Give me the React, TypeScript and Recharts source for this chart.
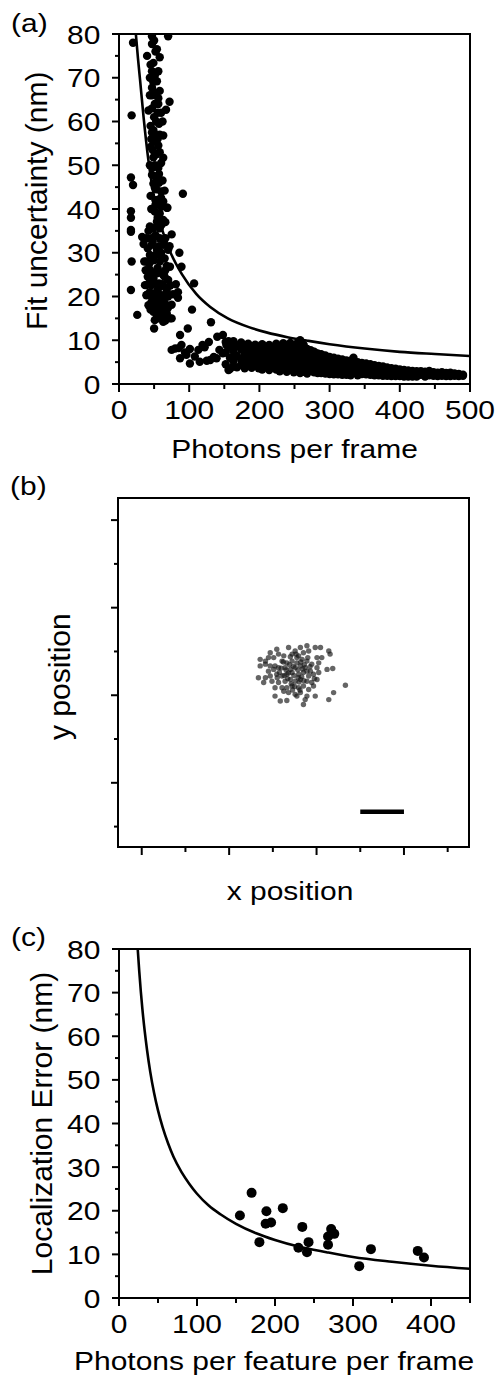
import React from 'react';
import { ComposedChart, Scatter, Line, XAxis, YAxis, ReferenceArea } from 'recharts';

const FONT = '"Liberation Sans", Arial, Helvetica, sans-serif';
const SQUASH = 0.88;
const W = 498;

// ---------------- Panel (a) data ----------------
const aXTicks = [0, 50, 100, 150, 200, 250, 300, 350, 400, 450, 500];
const aXMajor = [0, 100, 200, 300, 400, 500];
const aYTicks = [0, 5, 10, 15, 20, 25, 30, 35, 40, 45, 50, 55, 60, 65, 70, 75, 80];
const aYMajor = [0, 10, 20, 30, 40, 50, 60, 70, 80];

// low-photon, high-uncertainty column
const aTopCloud: [number, number][] = [
  [20, 78], [47, 79.5], [70, 79.5], [47, 77.7], [40, 75], [58, 74.7], [52, 76], [49, 73.4],
  [47, 71.5], [56, 71.5], [44, 70], [54, 69.2], [47, 67.7], [58, 67], [52, 66.5], [47, 66],
  [56, 65.3], [72, 64.5], [56, 64], [47, 63], [42, 62.5], [67, 62.7], [60, 62], [18, 61.4],
  [62, 60], [53, 60], [45, 59], [49, 58], [47, 57.5], [58, 57], [63, 56.8], [51, 55.5],
  [56, 54.5], [45, 54.2], [53, 52.5], [63, 51.7], [49, 51.8], [60, 50.5], [44, 50], [56, 49.4],
  [47, 47.8], [57, 48], [53, 47], [17, 47.2], [20, 45.5], [49, 45.8], [51, 44.9], [65, 44.2],
  [91, 43.5], [45, 43], [60, 44],
  [50, 78.5], [54, 76.5], [45, 73], [51, 70.5], [49, 69], [44, 66], [51, 64], [55, 62],
  [50, 61], [57, 59.5], [52, 57], [46, 56], [55, 56], [48, 53.5], [58, 53], [51, 50],
  [55, 47.5], [48, 49.5], [53, 44.5], [57, 46], [62, 46.5],
];

// dense cluster between 12 and 43 nm
const aMidCloud: [number, number][] = [
  [56, 42.1], [63, 41.7], [52, 42], [68, 40.3], [46, 40], [51, 39.4], [58, 39], [63, 37.5],
  [54, 37.1], [49, 35.6], [58, 35.6], [42, 35], [39, 33.3], [46.5, 33.3], [58, 33.3], [66, 33.3],
  [75, 34.2], [33, 33.6], [35, 32], [46.5, 31.8], [54, 30.7], [63, 31.8], [70, 30.7], [60, 30],
  [44, 29.5], [39, 28], [36, 28], [49, 28.3], [58, 28], [65, 28.7], [72.6, 26.8], [66, 26],
  [38, 26], [44, 26.1], [54, 25.3], [63, 24.9], [44, 24], [49, 24.2], [70, 23.8], [57, 23],
  [37, 22.6], [39, 22.6], [46.5, 22.6], [58, 22.2], [67, 22], [68, 21.5], [39, 20.3], [40, 20.4],
  [51, 20.7], [61, 20.3], [70, 20], [77, 20.5], [53, 19], [46.5, 18.8], [42, 18], [56, 18.1],
  [65.5, 18.4], [75, 18.1], [61, 17], [49, 16.5], [58, 16.9], [68, 16.2], [54, 15.4], [63, 14.2],
  [72.6, 15], [51, 14.6],
  [52, 41], [60, 40.5], [55, 38], [61, 36.5], [44, 36], [52, 34], [48, 32.5], [41, 31],
  [57, 31.5], [61, 29], [52, 29.5], [43, 27.5], [55, 26.5], [60, 25.5], [47, 25.5], [65, 24.5],
  [52, 23], [41, 24.5], [62, 22.8], [55, 21.5], [44, 21], [48, 20], [64, 19.5], [58, 19.5],
  [52, 17.5], [45, 17], [62, 16], [56, 15], [66, 14.5], [70, 17.5], [73, 22.5], [68, 27],
  [72, 31.5], [66, 37], [60, 42.5],
];

// isolated points
const aSparse: [number, number][] = [
  [17, 39.5], [17, 38], [17, 35.2], [17, 34.8], [18, 28], [17, 21.5], [26, 15.8], [50, 12.7],
  [69, 40.3], [86, 30], [89, 26.8], [107, 23], [81, 22.8], [84, 21], [84, 19.7], [104, 17],
  [75, 15], [131, 14.1], [98, 12.7], [87, 11.2], [140, 10.8], [148, 11.2], [75, 7.8], [80, 8.1],
  [85, 8.2], [89, 8.9], [94, 7.2], [101, 8], [113, 7.8], [119, 8.9], [122, 8.4], [128, 9.6],
  [101, 4.7], [108, 6.3], [115, 5.1], [125, 5.3], [130, 5.5], [135, 6.2], [139, 5.9], [87, 5.9],
  [96, 6.7], [156, 3.2], [143, 7.8], [148, 7], [153, 8.9], [156, 9.8],
];

// dense band at high photon counts: [photons, uncertainties...]
const aBandColumns: [number, number[]][] = [
  [152, [9.6, 7.2, 4.5]], [158, [8.4, 6.0, 3.4]], [163, [9.8, 7.5, 5.2, 4.0]], [168, [8.8, 6.4, 3.8]],
  [174, [9.5, 7.9, 5.6, 4.4]], [179, [8.6, 6.8, 4.9, 3.6]], [184, [9.2, 7.3, 5.9, 4.1]],
  [189, [8.3, 6.6, 5.0, 3.7]], [194, [9.0, 7.7, 6.0, 4.4]], [199, [8.6, 7.0, 5.4, 3.6]],
  [204, [9.1, 7.4, 6.1, 4.7, 3.3]], [209, [8.2, 6.7, 5.2, 3.9]], [214, [8.9, 7.6, 6.0, 4.5, 3.2]],
  [219, [8.4, 6.8, 5.3, 3.8]], [224, [9.2, 7.5, 6.2, 4.6, 3.3]], [229, [8.6, 7.0, 5.5, 4.0, 2.9]],
  [234, [9.3, 7.8, 6.3, 4.8, 3.4]], [239, [8.8, 7.2, 5.7, 4.1, 2.8]], [244, [9.4, 7.9, 6.4, 4.9, 3.3]],
  [249, [8.7, 7.1, 5.6, 4.0, 2.7]], [254, [9.3, 7.6, 6.1, 4.6, 3.1]], [258, [10.0, 8.4, 6.8, 5.2, 3.6, 2.5]],
  [263, [9.0, 7.3, 5.8, 4.2, 2.8]], [268, [8.0, 6.5, 5.0, 3.5, 2.4]], [273, [7.7, 6.1, 4.6, 3.1]],
  [278, [7.4, 5.8, 4.3, 2.7]], [283, [7.0, 5.5, 4.0, 2.5]], [288, [6.8, 5.3, 3.8, 2.5]],
  [294, [6.5, 5.0, 3.5, 2.4]], [300, [6.2, 4.8, 3.3, 2.3]], [306, [6.0, 4.6, 3.2, 2.2]],
  [312, [5.8, 4.4, 3.0, 2.2]], [318, [5.6, 4.2, 2.9, 2.1]], [324, [5.4, 4.0, 2.7, 2.1]],
  [330, [5.3, 3.9, 2.6, 2.0]], [334, [6.0, 4.5, 3.0]], [340, [5.0, 3.7, 2.5, 2.0]],
  [346, [4.8, 3.5, 2.3]], [352, [4.7, 3.4, 2.2]], [358, [4.5, 3.3, 2.1]], [364, [4.3, 3.1, 2.0]],
  [370, [4.1, 3.0, 2.0]], [376, [4.0, 2.9, 1.9]], [382, [3.8, 2.8, 1.9]], [388, [3.6, 2.6, 1.8]],
  [394, [3.5, 2.5, 1.8]], [400, [3.3, 2.4, 1.8]], [406, [3.2, 2.3, 1.7]], [412, [3.1, 2.3, 1.7]],
  [418, [3.0, 2.2, 1.7]], [424, [2.9, 2.1, 1.7]], [430, [2.9, 2.1]], [436, [2.8, 2.0, 1.7]],
  [442, [3.0, 2.0]], [448, [2.7, 1.9]], [454, [2.6, 1.8]], [460, [2.7, 1.9]], [466, [2.5, 1.8]],
  [472, [2.6, 1.8]], [478, [2.4, 1.9]], [484, [2.3, 1.8]], [490, [2.1, 1.9]],
];

// theoretical curve
const aFitCurve: [number, number][] = [
  [24, 80], [27, 74.5], [30, 69.5], [35, 61], [42, 51], [48, 44.5], [55, 39], [62, 35],
  [73, 30.2], [90, 25], [110, 20.6], [130, 17.6], [155, 15], [185, 13], [210, 11.8],
  [240, 10.7], [270, 9.85], [300, 9.1], [350, 8.1], [400, 7.35], [450, 6.85], [500, 6.4],
];

// ---------------- Panel (b) data ----------------
const bXTicks = [0, 1, 2, 3, 4, 5, 6, 7];
const bXMajor = [0, 2, 4, 6];
const bYTicks = [-1, 0, 1, 2, 3, 4, 5, 6];
const bYMajor = [0, 2, 4, 6];
const bCluster: [number, number][] = [
  [3.09, 3.05], [2.94, 2.97], [3.36, 3.09], [3.51, 3.01], [3.63, 3.09], [3.78, 3.13], [3.97, 3.09],
  [4.09, 3.09], [4.28, 3.01], [4.31, 2.94],
  [2.71, 2.82], [2.83, 2.78], [2.90, 2.86], [3.02, 2.86], [3.13, 2.94], [3.25, 2.90], [3.44, 2.94],
  [3.59, 2.90], [3.70, 2.97], [3.82, 3.01], [4.01, 2.86], [4.12, 2.86],
  [2.71, 2.67], [2.83, 2.71], [2.94, 2.67], [3.05, 2.67], [3.21, 2.78], [3.32, 2.74], [3.44, 2.78],
  [3.55, 2.74], [3.67, 2.82], [3.78, 2.78], [3.89, 2.71], [4.05, 2.74], [4.01, 2.63],
  [2.90, 2.55], [3.02, 2.59], [3.13, 2.63], [3.28, 2.63], [3.40, 2.59], [3.51, 2.63], [3.63, 2.67],
  [3.74, 2.63], [3.86, 2.55], [4.24, 2.59], [4.37, 2.61],
  [2.67, 2.40], [2.83, 2.40], [2.94, 2.44], [3.09, 2.48], [3.21, 2.44], [3.32, 2.48], [3.44, 2.52],
  [3.59, 2.48], [3.70, 2.52], [3.82, 2.44], [3.93, 2.48], [4.05, 2.52],
  [2.79, 2.29], [2.98, 2.32], [3.13, 2.29], [3.28, 2.32], [3.40, 2.36], [3.51, 2.32], [3.63, 2.36],
  [3.78, 2.32], [3.89, 2.29], [4.01, 2.36],
  [3.05, 2.17], [3.21, 2.17], [3.32, 2.17], [3.44, 2.21], [3.59, 2.17], [3.70, 2.21], [3.82, 2.13],
  [3.93, 2.21], [4.66, 2.23],
  [3.25, 2.09], [3.36, 2.06], [3.51, 2.02], [3.63, 2.06], [3.78, 1.98], [3.97, 1.98], [4.39, 2.06],
  [3.05, 1.98], [3.17, 1.87], [3.32, 1.88], [3.55, 1.98], [3.74, 1.90], [3.70, 1.79], [4.28, 1.90],
  [3.15, 2.52], [3.38, 2.70], [3.48, 2.45], [3.57, 2.58], [3.66, 2.42], [3.72, 2.70], [3.45, 2.12],
  [3.60, 2.30], [3.34, 2.38], [3.24, 2.76], [3.55, 2.86], [3.68, 2.60], [3.40, 2.88], [3.78, 2.55],
  [3.50, 2.20], [3.62, 2.12], [3.30, 2.58], [3.10, 2.40], [3.85, 2.65], [3.95, 2.38],
  [3.47, 2.66], [3.58, 2.40], [3.36, 2.51], [3.71, 2.33], [3.26, 2.45], [3.53, 2.94], [3.80, 2.86],
  [3.19, 2.62], [3.64, 2.76], [3.42, 2.26],
];
const bScaleBar: [number, number][] = [[5, -0.66], [6, -0.66]];

// ---------------- Panel (c) data ----------------
const cXTicks = [0, 50, 100, 150, 200, 250, 300, 350, 400, 450];
const cXMajor = [0, 100, 200, 300, 400];
const cYTicks = aYTicks;
const cYMajor = aYMajor;
const cPoints: [number, number][] = [
  [155, 18.9], [170, 24.1], [180, 12.8], [189, 19.9], [188, 17.0], [195, 17.3], [210, 20.6],
  [230, 11.5], [235, 16.3], [243, 12.8], [241, 10.5], [268, 14.1], [268, 12.2], [272, 15.8],
  [276, 14.7], [308, 7.3], [323, 11.2], [383, 10.8], [391, 9.3],
];
const cFitCurve: [number, number][] = [
  [24, 80], [26, 74.8], [28, 70.2], [30, 66.2], [33, 61.1], [36, 56.8], [40, 51.9], [45, 47],
  [50, 43], [56, 39.1], [63, 35.4], [70, 32.3], [80, 28.9], [90, 26.2], [100, 23.9], [115, 21.2],
  [130, 19.2], [150, 17], [175, 14.9], [200, 13.3], [230, 11.8], [266, 10.5], [300, 9.4],
  [350, 8.3], [400, 7.4], [450, 6.7],
];

// ---------------- helpers ----------------
const toXY = (arr: [number, number][]) => arr.map(([x, y]) => ({ x, y }));

const aPoints = toXY([
  ...aTopCloud,
  ...aMidCloud,
  ...aSparse,
  ...aBandColumns.flatMap(([n, ss]) => ss.map((s) => [n, s] as [number, number])),
]);
const aFit = toXY(aFitCurve);
const bPoints = toXY(bCluster);
const bBar = toXY(bScaleBar);
const cPts = toXY(cPoints);
const cFit = toXY(cFitCurve);

const makeXTick = (majors: number[], labels: boolean) => (props: any) => {
  const { x, y, payload } = props;
  const v = payload.value;
  const major = majors.indexOf(v) >= 0;
  return (
    <g>
      <line x1={x} x2={x} y1={y} y2={y + (major ? 8 : 5)} stroke="#000" strokeWidth={2} />
      {major && labels && (
        <text
          transform={`translate(${x},${y + 35}) scale(1,${SQUASH})`}
          textAnchor="middle"
          fontSize={30}
          fontFamily={FONT}
          fill="#000"
        >
          {v}
        </text>
      )}
    </g>
  );
};

const makeYTick = (majors: number[], labels: boolean) => (props: any) => {
  const { x, y, payload } = props;
  const v = payload.value;
  const major = majors.indexOf(v) >= 0;
  return (
    <g>
      <line x1={x} x2={x - (major ? 7 : 4)} y1={y} y2={y} stroke="#000" strokeWidth={2} />
      {major && labels && (
        <text
          transform={`translate(${x - 18.5},${y + 9.5}) scale(1,${SQUASH})`}
          textAnchor="end"
          fontSize={30}
          fontFamily={FONT}
          fill="#000"
        >
          {v}
        </text>
      )}
    </g>
  );
};

const HText = ({ x, y, anchor, children }: any) => (
  <text
    transform={`translate(${x},${y}) scale(1,${SQUASH})`}
    textAnchor={anchor || 'middle'}
    fontSize={30}
    fontFamily={FONT}
    fill="#000"
  >
    {children}
  </text>
);

const VText = ({ x, y, children }: any) => (
  <text
    transform={`translate(${x},${y}) rotate(-90)`}
    textAnchor="middle"
    fontSize={30}
    fontFamily={FONT}
    fill="#000"
  >
    {children}
  </text>
);

const dotShape = (r: number, fill: string, opacity: number) => (props: any) => (
  <circle cx={props.cx} cy={props.cy} r={r} fill={fill} fillOpacity={opacity} />
);

const axisLine = { stroke: '#000', strokeWidth: 2 };

function PanelA() {
  return (
    <ComposedChart width={W} height={470} margin={{ top: 34, right: 28, bottom: 0, left: 0 }}>
      <XAxis
        type="number"
        dataKey="x"
        domain={[0, 500]}
        allowDataOverflow
        ticks={aXTicks}
        interval={0}
        tickSize={0}
        tickMargin={0}
        tickLine={false}
        axisLine={axisLine}
        tick={makeXTick(aXMajor, true)}
        height={86}
        label={{ content: () => <HText x={294.5} y={458.3}>Photons per frame</HText> }}
      />
      <YAxis
        type="number"
        dataKey="y"
        domain={[0, 80]}
        allowDataOverflow
        ticks={aYTicks}
        interval={0}
        tickSize={0}
        tickMargin={0}
        tickLine={false}
        axisLine={axisLine}
        tick={makeYTick(aYMajor, true)}
        width={119}
        label={{
          content: () => (
            <g>
              <VText x={46.7} y={200.8}>Fit uncertainty (nm)</VText>
              <HText x={11} y={31.7} anchor="start">(a)</HText>
            </g>
          ),
        }}
      />
      <Scatter data={aPoints} dataKey="y" isAnimationActive={false} shape={dotShape(4.2, '#000', 1)} />
      <Line
        data={aFit}
        dataKey="y"
        type="monotone"
        stroke="#000"
        strokeWidth={2.6}
        dot={false}
        activeDot={false}
        isAnimationActive={false}
      />
      <ReferenceArea x1={0} x2={500} y1={0} y2={80} fill="none" fillOpacity={0} stroke="#000" strokeWidth={2} />
    </ComposedChart>
  );
}

function PanelB() {
  return (
    <ComposedChart width={W} height={445} margin={{ top: 28, right: 29, bottom: 0, left: 0 }}>
      <XAxis
        type="number"
        dataKey="x"
        domain={[-0.543, 7.488]}
        allowDataOverflow
        ticks={bXTicks}
        interval={0}
        tickSize={0}
        tickMargin={0}
        tickLine={false}
        axisLine={axisLine}
        tick={makeXTick(bXMajor, false)}
        height={68}
        label={{ content: () => <HText x={290} y={430}>x position</HText> }}
      />
      <YAxis
        type="number"
        dataKey="y"
        domain={[-1.466, 6.505]}
        allowDataOverflow
        ticks={bYTicks}
        interval={0}
        tickSize={0}
        tickMargin={0}
        tickLine={false}
        axisLine={axisLine}
        tick={makeYTick(bYMajor, false)}
        width={118}
        label={{
          content: () => (
            <g>
              <VText x={70} y={206.7}>y position</VText>
              <HText x={10} y={25} anchor="start">(b)</HText>
            </g>
          ),
        }}
      />
      <Scatter data={bPoints} dataKey="y" isAnimationActive={false} shape={dotShape(2.7, '#151515', 0.66)} />
      <Line
        data={bBar}
        dataKey="y"
        type="linear"
        stroke="#000"
        strokeWidth={4.5}
        dot={false}
        activeDot={false}
        isAnimationActive={false}
      />
      <ReferenceArea
        x1={-0.543}
        x2={7.488}
        y1={-1.466}
        y2={6.505}
        fill="none"
        fillOpacity={0}
        stroke="#000"
        strokeWidth={2}
      />
    </ComposedChart>
  );
}

function PanelC() {
  return (
    <ComposedChart width={W} height={462} margin={{ top: 34, right: 28, bottom: 0, left: 0 }}>
      <XAxis
        type="number"
        dataKey="x"
        domain={[0, 450]}
        allowDataOverflow
        ticks={cXTicks}
        interval={0}
        tickSize={0}
        tickMargin={0}
        tickLine={false}
        axisLine={axisLine}
        tick={makeXTick(cXMajor, true)}
        height={79}
        label={{ content: () => <HText x={274} y={455}>Photons per feature per frame</HText> }}
      />
      <YAxis
        type="number"
        dataKey="y"
        domain={[0, 80]}
        allowDataOverflow
        ticks={cYTicks}
        interval={0}
        tickSize={0}
        tickMargin={0}
        tickLine={false}
        axisLine={axisLine}
        tick={makeYTick(cYMajor, true)}
        width={119}
        label={{
          content: () => (
            <g>
              <VText x={51.7} y={208.5}>Localization Error (nm)</VText>
              <HText x={11} y={31} anchor="start">(c)</HText>
            </g>
          ),
        }}
      />
      <Scatter data={cPts} dataKey="y" isAnimationActive={false} shape={dotShape(5, '#000', 1)} />
      <Line
        data={cFit}
        dataKey="y"
        type="monotone"
        stroke="#000"
        strokeWidth={2.6}
        dot={false}
        activeDot={false}
        isAnimationActive={false}
      />
      <ReferenceArea x1={0} x2={450} y1={0} y2={80} fill="none" fillOpacity={0} stroke="#000" strokeWidth={2} />
    </ComposedChart>
  );
}

export default function App() {
  return (
    <div style={{ position: 'absolute', left: 0, top: 0, width: W, height: 1377, background: '#fff' }}>
      <div style={{ position: 'absolute', left: 0, top: 0 }}>
        <PanelA />
      </div>
      <div style={{ position: 'absolute', left: 0, top: 470 }}>
        <PanelB />
      </div>
      <div style={{ position: 'absolute', left: 0, top: 915 }}>
        <PanelC />
      </div>
    </div>
  );
}
